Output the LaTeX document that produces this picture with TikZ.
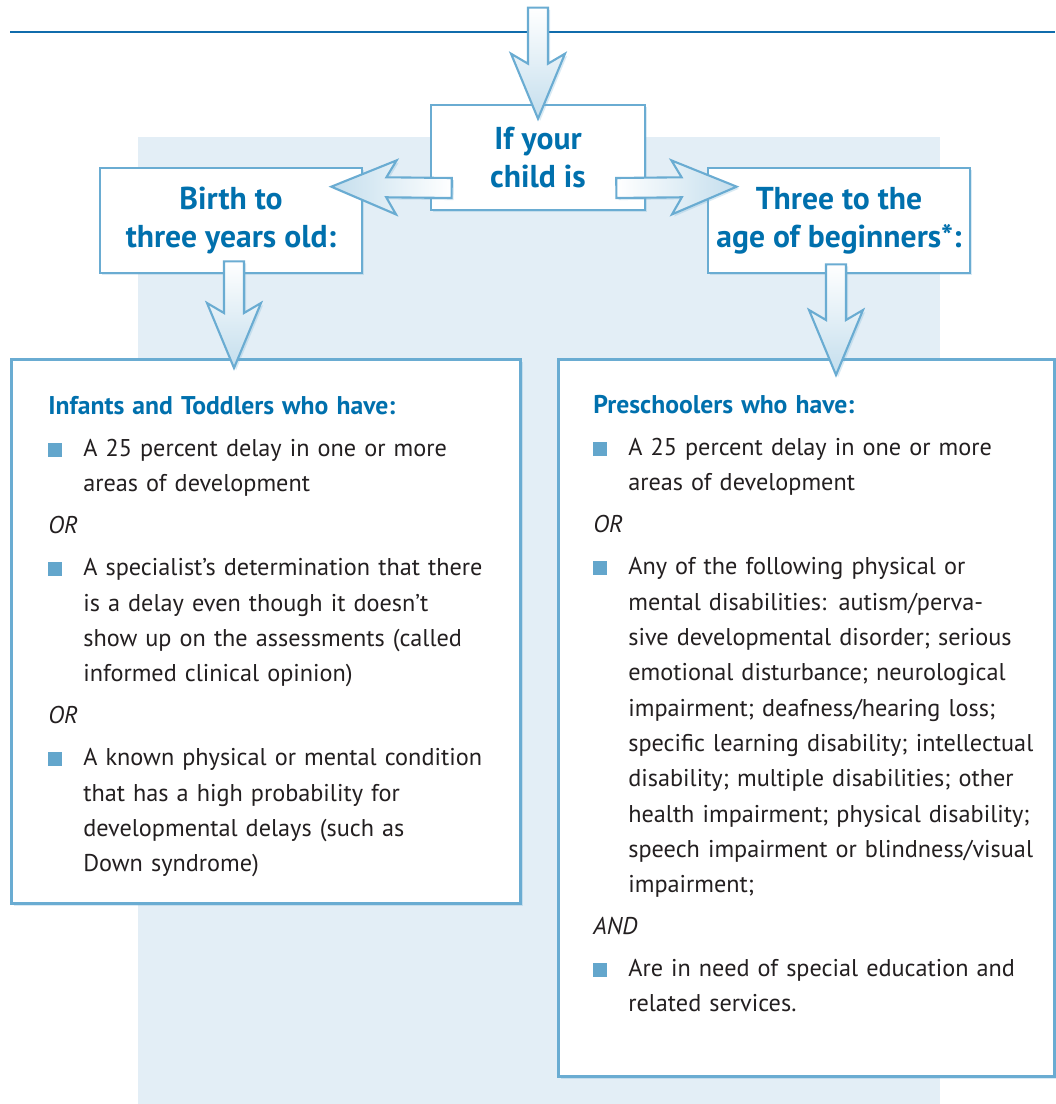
\documentclass[tikz,border=0pt]{standalone}
\usepackage{fontspec}
\setmainfont{PT Sans}
\usepackage{xcolor}
\definecolor{titleblue}{RGB}{0,112,173}
\definecolor{frameblue}{RGB}{106,172,210}
\definecolor{panelblue}{RGB}{227,238,246}
\definecolor{bulletblue}{RGB}{99,166,204}
\definecolor{ruleblue}{RGB}{16,108,172}
\definecolor{bodytext}{RGB}{35,31,32}
\definecolor{arrowtint}{RGB}{196,222,237}
\usepackage{tikz}
\usetikzlibrary{calc}
\usetikzlibrary{shadows}
\setlength{\parskip}{0pt}
\newcommand{\px}{0.02cm}
\newcommand{\stemhalf}{0.2cm}
\newcommand{\headhalf}{0.54cm}
\newcommand{\headlen}{1.1cm}
\newcommand{\barblen}{0.2cm}
\newcommand{\boxtitle}{\fontsize{18}{21.5}\selectfont\bfseries}
\newcommand{\boxbody}{\fontsize{13.8}{20.1}\selectfont}
\newlength{\bulletindent}
\setlength{\bulletindent}{19.9pt}
\newcommand{\bulletsq}{\textcolor{bulletblue}{\rule{7.8pt}{7.8pt}}}
\newcommand{\listhead}[1]{\noindent{\color{titleblue}\fontsize{14.6}{20.1}\selectfont\bfseries #1}\par}
\newcommand{\bitem}[1]{\vspace{3.8pt}\noindent\hangindent=\bulletindent\hangafter=1
    \makebox[\bulletindent][l]{\bulletsq}{\let\\\newline #1}\par}
\newcommand{\joiner}[1]{\vspace{3.8pt}\noindent\textit{#1}\par}
\newcommand{\blockarrow}[3][]{%
    \coordinate (ba-hb) at ($(#3)!\headlen!(#2)$);
    \coordinate (ba-hc) at ($(#3)!\headlen+\barblen!(#2)$);
    \path[blockarrow,#1]
        ($(#2)!\stemhalf!90:(#3)$) -- ($(ba-hb)!\stemhalf!90:(#3)$)
        -- ($(ba-hc)!\headhalf!90:(#3)$) -- (#3)
        -- ($(ba-hc)!\headhalf!-90:(#3)$) -- ($(ba-hb)!\stemhalf!-90:(#3)$)
        -- ($(#2)!\stemhalf!-90:(#3)$) -- cycle;
}
\tikzset{
    soft/.style={drop shadow={shadow xshift=1.2pt, shadow yshift=-1.2pt, opacity=0.25, fill=frameblue}},
    panel/.style={fill=panelblue},
    smallbox/.style={soft, draw=frameblue, line width=1.5pt, fill=white, align=center,
        font=\boxtitle, text=titleblue, inner sep=0pt,
        minimum width=262*\px, minimum height=105*\px},
    bigbox/.style={soft, draw=frameblue, line width=1.7pt, fill=white, anchor=north west},
    listtext/.style={anchor=north west, inner sep=0pt, text width=465*\px,
        align=left, font=\boxbody, text=bodytext},
    blockarrow/.style={soft, draw=frameblue, line width=1.2pt, line join=miter}
}
\begin{document}
\begin{tikzpicture}[x=\px, y=-\px]
    \useasboundingbox (0,0) rectangle (1055,1104);
    \fill[panel] (138,137) rectangle (940,1104);
    \draw[ruleblue, line width=1.3pt] (10,32) -- (1055,32);

    % question and the two age groups
    \node[smallbox, minimum width=214*\px] (ifchild) at (538,157.5) {If your\\child is};
    \node[smallbox] (birth) at (231,220.5) {Birth to\\three years old:};
    \node[smallbox] (three) at (839,220.5) {Three to the\\age of beginners*:};

    % criteria
    \node[bigbox, minimum width=509*\px, minimum height=544*\px] (infants) at (10,358) {};
    \node[bigbox, minimum width=496*\px, minimum height=717*\px] (preschool) at (557,358) {};

    \node[listtext] (infantslist) at ($(infants.north west)+(38,38)$) {%
        \listhead{Infants and Toddlers who have:}
        \bitem{A 25 percent delay in one or more\\areas of development}
        \joiner{OR}
        \bitem{A specialist's determination that there\\is a delay even though it doesn't\\show up on the assessments (called\\informed clinical opinion)}
        \joiner{OR}
        \bitem{A known physical or mental condition\\that has a high probability for\\developmental delays (such as\\Down syndrome)}};
    \node[listtext] (preschoollist) at ($(preschool.north west)+(36,37)$) {%
        \listhead{Preschoolers who have:}
        \bitem{A 25 percent delay in one or more\\areas of development}
        \joiner{OR}
        \bitem{Any of the following physical or\\mental disabilities: autism/perva-\\sive developmental disorder; serious\\emotional disturbance; neurological\\impairment; deafness/hearing loss;\\specific learning disability; intellectual\\disability; multiple disabilities; other\\health impairment; physical disability;\\speech impairment or blindness/visual\\impairment;}
        \joiner{AND}
        \bitem{Are in need of special education and\\related services.}};

    % block arrows
    \coordinate (entry) at ($(ifchild.north)+(0,-96)$);
    \coordinate (entrytip) at ($(ifchild.north)+(0,15)$);
    \coordinate (leftstart) at ($(ifchild.west)+(22,30.5)$);
    \coordinate (lefttip) at ($(birth.north east)+(-32,20)$);
    \coordinate (rightstart) at ($(ifchild.east)+(-30,30.5)$);
    \coordinate (righttip) at ($(three.north west)+(30,20)$);
    \coordinate (birthstart) at ($(birth.south)+(3,-13)$);
    \coordinate (birthtip) at ($(birth.south |- infants.north)+(3,10)$);
    \coordinate (threestart) at ($(three.south)+(-3,-10)$);
    \coordinate (threetip) at ($(three.south |- preschool.north)+(-3,17)$);

    \blockarrow[top color=white, bottom color=arrowtint]{entry}{entrytip}
    \blockarrow[left color=arrowtint, right color=white]{leftstart}{lefttip}
    \blockarrow[left color=white, right color=arrowtint]{rightstart}{righttip}
    \blockarrow[top color=white, bottom color=arrowtint]{birthstart}{birthtip}
    \blockarrow[top color=white, bottom color=arrowtint]{threestart}{threetip}
\end{tikzpicture}
\end{document}
